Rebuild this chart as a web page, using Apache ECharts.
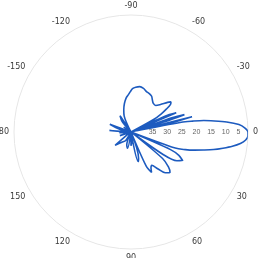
<!DOCTYPE html>
<html>
<head>
<meta charset="utf-8">
<script src="https://cdn.jsdelivr.net/npm/echarts@6/dist/echarts.min.js"></script>
<style>
    html, body { margin: 0; padding: 0; background: #fff; }
    #mainEchart { width: 260px; height: 258px; }
</style>
</head>
<body>
<div id="mainEchart"></div>
<script>
// pattern angle (deg, clockwise from 0 at right) and magnitude (dB)
var thetaDeg = [-180,-176,-172,-166,-160,-154,-146,-138,-130,-124,-118,-113,-108,-103,-98,-94,-91,-88,-84,-79,
    -74,-69,-64,-60,-56,-52,-47,-43,-39,-37,-35,-33,-31,-29,-27,-25,-23,-21,-19,-18,
    -17,-15.5,-14,-13,-12,-11,-10,-9,-8,-6,-4,-2,0,2,4,6,8,10,12,14,
    16,18,20,22,24,26,29,32,35,37,40,43,46,50,54,58,61,63,66,70,
    74,76,79,84,90,96,102,108,114,122,132,140,146,154,162,170,176,180];
var magDb = [-38.0,-32.6,-40.0,-36.0,-32.3,-40.0,-37.0,-40.0,-35.3,-33.3,-40.0,-34.0,-32.0,-30.0,-28.2,-27.2,-26.2,-25.2,-24.6,-24.2,
    -24.5,-25.2,-25.5,-25.9,-26.9,-27.6,-27.6,-26.2,-23.9,-22.9,-23.5,-25.5,-27.9,-31.0,-40.0,-27.2,-23.2,-40.0,-24.9,-20.8,
    -28.0,-40.0,-18.5,-24.9,-38.0,-22.5,-18.5,-14.8,-12.4,-7.1,-3.0,-1.0,0,0,-0.7,-2.4,-5.0,-8.1,-11.1,-14.5,
    -17.5,-20.5,-23.9,-40.0,-25.2,-21.8,-19.8,-21.5,-26.6,-40.0,-25.9,-22.5,-20.8,-21.8,-24.5,-26.6,-25.9,-24.5,-27.2,-40.0,
    -30.6,-29.6,-40.0,-37.0,-35.3,-40.0,-34.3,-35.3,-40.0,-36.6,-35.3,-32.9,-39.0,-40.0,-36.0,-40.0,-36.0,-38.0];

var angleTicks = [0,30,60,90,120,150,180,210,240,270,300,330];
var magTicks = [-40,-35,-30,-25,-20,-15,-10,-5,0];

var myChart = echarts.init(document.getElementById('mainEchart'));

var lineData = [];
for (var i = 0; i < thetaDeg.length; i++) {
    lineData.push([magDb[i], (thetaDeg[i] + 360) % 360]);
}

var option = {
    animation: false,
    polar: {
        center: [131, 132],
        radius: 117
    },
    angleAxis: {
        type: 'value',
        min: 0,
        max: 360,
        interval: 30,
        startAngle: 0,
        clockwise: true,
        axisLine: { show: true, lineStyle: { color: '#e6e6e6', width: 1 } },
        axisTick: { show: false },
        splitLine: { show: false },
        axisLabel: {
            margin: 5,
            fontSize: 8,
            color: '#3a3a3a',
            fontFamily: 'DejaVu Sans',
            formatter: function (v) {
                if (angleTicks.indexOf(v) < 0) return '';
                return v > 180 ? String(v - 360) : String(v);
            }
        }
    },
    radiusAxis: {
        type: 'value',
        min: -40,
        max: 0,
        interval: 5,
        axisLine: { show: false },
        axisTick: { show: false },
        splitLine: { show: false },
        axisLabel: {
            margin: 0,
            fontSize: 7,
            color: '#666',
            align: 'left',
            verticalAlign: 'middle',
            padding: [0, 0, 0, 3],
            formatter: function (v) {
                if (magTicks.indexOf(v) < 0 || v <= -40 || v >= 0) return '';
                return String(-v);
            }
        }
    },
    series: [
        {
            type: 'line',
            coordinateSystem: 'polar',
            symbol: 'none',
            smooth: 0.3,
            lineStyle: { color: '#1d5bbf', width: 1.6 },
            data: lineData
        }
    ]
};
myChart.setOption(option);
</script>
</body>
</html>
